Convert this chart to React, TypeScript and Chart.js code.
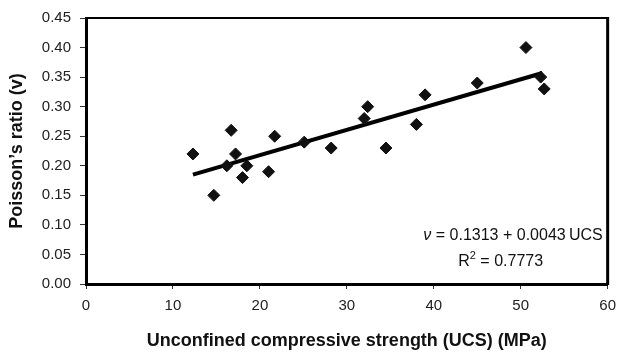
import React, { useEffect, useRef } from "react";
import { Chart, registerables } from "chart.js";

Chart.register(...registerables);

const ucsValues = [12.3, 14.7, 16.2, 16.7, 17.2, 18.0, 18.5, 21.0, 21.7, 25.1, 28.2, 32.0, 32.4, 34.5, 38.0, 39.0, 45.0, 50.6, 52.3, 52.7];
const poissonValues = [0.22, 0.15, 0.20, 0.26, 0.22, 0.18, 0.20, 0.19, 0.25, 0.24, 0.23, 0.28, 0.30, 0.23, 0.27, 0.32, 0.34, 0.40, 0.35, 0.33];
const trendX = [12.3, 52.5];
const trendY = [0.185, 0.357];
const xTicks = [0, 10, 20, 30, 40, 50, 60];
const yTicks = [0, 0.05, 0.1, 0.15, 0.2, 0.25, 0.3, 0.35, 0.4, 0.45];
const xTitle = "Unconfined compressive strength (UCS) (MPa)";
const yTitle = "Poisson\u2019s ratio (v)";
const eqSymbol = "\u03BD";
const eqText = " = 0.1313 + 0.0043\u2009UCS";
const r2Value = " = 0.7773";

const FONT = "'Liberation Sans', Arial, sans-serif";

const framePlugin = {
  id: "frame",
  afterDatasetsDraw(chart: any) {
    const { ctx, chartArea } = chart;
    const { left, right, top, bottom } = chartArea;
    ctx.save();
    ctx.strokeStyle = "#000";
    ctx.lineWidth = 2;
    ctx.beginPath();
    ctx.moveTo(left, top);
    ctx.lineTo(right, top);
    ctx.stroke();
    ctx.lineWidth = 3;
    ctx.beginPath();
    ctx.moveTo(right, top - 1);
    ctx.lineTo(right, bottom + 1);
    ctx.stroke();

    // annotation
    ctx.fillStyle = "#111";
    ctx.textBaseline = "middle";
    const x1 = right - 5;
    const y1 = bottom - 48;
    ctx.font = `16px ${FONT}`;
    const wRest = ctx.measureText(eqText).width;
    ctx.textAlign = "left";
    ctx.fillText(eqText, x1 - wRest, y1);
    ctx.font = `italic 16px ${FONT}`;
    const wSym = ctx.measureText(eqSymbol).width;
    ctx.fillText(eqSymbol, x1 - wRest - wSym, y1);

    const y2 = bottom - 22;
    ctx.font = `16px ${FONT}`;
    const wR = ctx.measureText("R").width;
    const wVal = ctx.measureText(r2Value).width;
    ctx.font = `11px ${FONT}`;
    const wSup = ctx.measureText("2").width;
    const total = wR + wSup + wVal;
    const cx = right - 107;
    let sx = cx - total / 2;
    ctx.font = `16px ${FONT}`;
    ctx.fillText("R", sx, y2);
    sx += wR;
    ctx.font = `11px ${FONT}`;
    ctx.fillText("2", sx, y2 - 6);
    sx += wSup;
    ctx.font = `16px ${FONT}`;
    ctx.fillText(r2Value, sx, y2);
    ctx.restore();
  },
};

export default function App() {
  const ref = useRef<HTMLCanvasElement>(null);
  useEffect(() => {
    document.body.style.margin = "0";
    const canvas = ref.current!;
    const chart = new Chart(canvas, {
      type: "scatter",
      data: {
        datasets: [
          {
            type: "line",
            data: trendX.map((x, i) => ({ x, y: trendY[i] })),
            borderColor: "#000",
            borderWidth: 4,
            pointRadius: 0,
            fill: false,
            order: 2,
          } as any,
          {
            data: ucsValues.map((x, i) => ({ x, y: poissonValues[i] })),
            pointStyle: "rectRot",
            pointRadius: 6,
            backgroundColor: "#111",
            borderColor: "#111",
            borderWidth: 1,
            order: 1,
          },
        ],
      },
      options: {
        animation: false,
        responsive: false,
        layout: { padding: { top: 15, right: 11, left: 0, bottom: 0 } },
        plugins: { legend: { display: false }, tooltip: { enabled: false } },
        scales: {
          x: {
            type: "linear",
            min: 0,
            max: 60,
            afterBuildTicks: (s: any) => {
              s.ticks = xTicks.map((v) => ({ value: v }));
            },
            afterFit: (s: any) => {
              s.height = 70;
            },
            ticks: {
              color: "#222",
              font: { family: FONT, size: 15 },
              padding: 8,
              maxRotation: 0,
            },
            grid: {
              drawOnChartArea: false,
              drawTicks: true,
              tickLength: 5,
              color: "#333",
              lineWidth: 1,
            },
            border: { display: true, color: "#000", width: 3 },
            title: {
              display: true,
              text: xTitle,
              color: "#111",
              font: { family: FONT, size: 18, weight: "bold" },
              padding: { top: 0, bottom: 2 },
            },
          },
          y: {
            type: "linear",
            min: 0,
            max: 0.45,
            afterBuildTicks: (s: any) => {
              s.ticks = yTicks.map((v) => ({ value: v }));
            },
            afterFit: (s: any) => {
              s.width = 86;
            },
            ticks: {
              color: "#222",
              font: { family: FONT, size: 15 },
              padding: 9,
              callback: (v: any) => Number(v).toFixed(2),
            },
            grid: {
              drawOnChartArea: false,
              drawTicks: true,
              tickLength: 6,
              color: "#333",
              lineWidth: 1,
            },
            border: { display: true, color: "#000", width: 3 },
            title: {
              display: true,
              text: yTitle,
              color: "#111",
              font: { family: FONT, size: 18, weight: "bold" },
              padding: { top: 6, bottom: 0 },
            },
          },
        },
      },
      plugins: [framePlugin],
    });
    return () => chart.destroy();
  }, []);
  return (
    <div style={{ position: "fixed", left: 0, top: 0, width: 624, height: 354, background: "#fff" }}>
      <canvas ref={ref} width={624} height={354} style={{ display: "block" }} />
    </div>
  );
}
